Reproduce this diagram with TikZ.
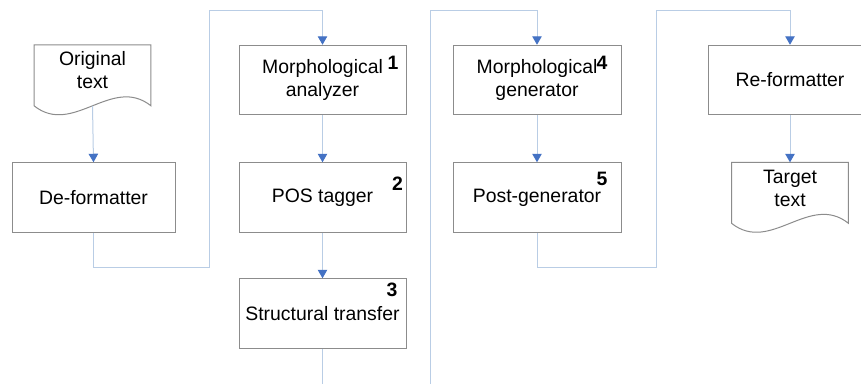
\documentclass[tikz,border=0pt]{standalone}
\usepackage{fontspec}
\setmainfont{Liberation Sans}
\usetikzlibrary{arrows.meta,calc}
\definecolor{boxgray}{RGB}{140,140,140}
\definecolor{linkblue}{RGB}{185,205,229}
\definecolor{tipblue}{RGB}{68,114,196}
\begin{document}
\begin{tikzpicture}[x=1pt,y=-1pt,
  every node/.style={font=\fontsize{19.4}{23}\selectfont, align=center, inner sep=0pt},
  proc/.style={draw=boxgray, line width=1pt, minimum width=167pt, minimum height=69.5pt},
  doctxt/.style={minimum width=116.5pt, minimum height=51pt},
  docline/.style={draw=boxgray, line width=1pt},
  num/.style={font=\fontsize{19.4}{19.4}\selectfont\bfseries},
  conn/.style={draw=linkblue, line width=1pt},
  arr/.style={conn, -{Triangle[length=8.5pt,width=9.5pt,color=tipblue]}}]
\clip (0,0) rectangle (861,383);
\fill[white] (0,0) rectangle (861,383);
% nodes
\node[doctxt] (orig) at (92.5,70.5) {Original\\text};
\draw[docline] (orig.north west) -- (orig.north east) -- ++(0,61)
  .. controls +(-39,-31) and +(39,31) .. ($(orig.north west)+(0,61)$) -- cycle;
\node[proc, minimum width=163pt] (deform) at (93.5,197.5) {De-formatter};
\node[proc] (manal) at (322.5,80) {Morphological\\analyzer};
\node[proc] (pos) at (322.5,197.5) {POS tagger};
\node[proc] (stran) at (322.5,313.5) {Structural transfer};
\node[proc, minimum width=168pt] (mgen) at (537,80) {Morphological\\generator};
\node[proc, minimum width=168pt] (postg) at (537,197.5) {Post-generator};
\node[proc, minimum width=164pt] (reform) at (790,80) {Re-formatter};
\node[doctxt] (target) at (790,188) {Target\\text};
\draw[docline] (target.north west) -- (target.north east) -- ++(0,61)
  .. controls +(-39,-31) and +(39,31) .. ($(target.north west)+(0,61)$) -- cycle;
% numbers
\node[num] (n1) at (393,63) {1};
\node[num] (n2) at (397.5,184) {2};
\node[num] (n3) at (392,290) {3};
\node[num] (n4) at (602,63) {4};
\node[num] (n5) at (602,179) {5};
% connectors
\coordinate (ow) at ($(orig.north)+(0,61)$);
\draw[arr] (ow) -- (deform.north);
\coordinate (b1) at (209,267);
\coordinate (t1) at (209,10);
\draw[arr] (deform.south) |- (b1) -- (t1) -| (manal.north);
\draw[arr] (manal) -- (pos);
\draw[arr] (pos) -- (stran);
\coordinate (e1) at (322.5,385);
\draw[conn] (stran.south) -- (e1);
\coordinate (s2) at (430,385);
\coordinate (t2) at (430,10);
\draw[arr] (s2) -- (t2) -| (mgen.north);
\draw[arr] (mgen) -- (postg);
\coordinate (b3) at (656,267);
\coordinate (t3) at (656,10);
\draw[arr] (postg.south) |- (b3) -- (t3) -| (reform.north);
\draw[arr] (reform) -- (target);
\end{tikzpicture}
\end{document}
